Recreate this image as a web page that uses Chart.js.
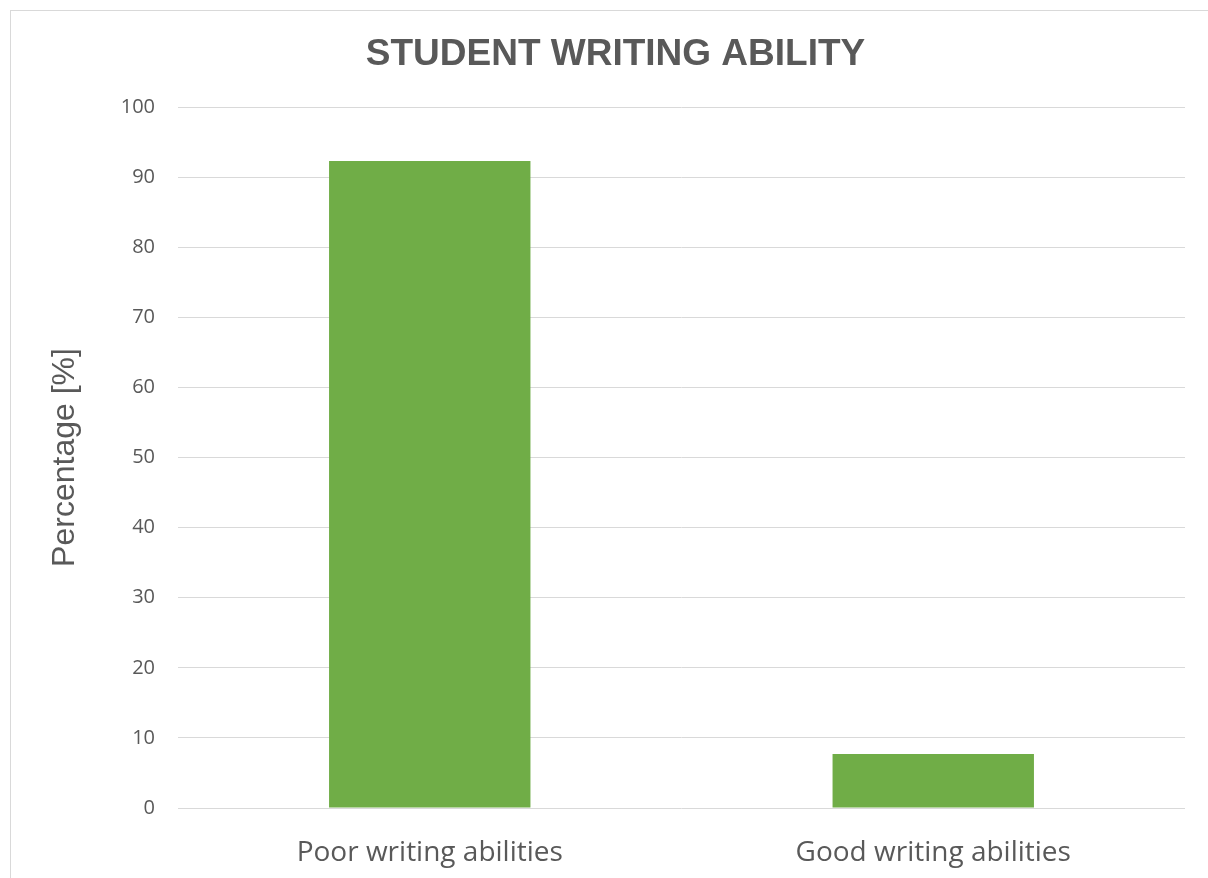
<!DOCTYPE html>
<html>
<head>
<meta charset="utf-8">
<script src="https://cdn.jsdelivr.net/npm/chart.js@4"></script>
<style>
  html, body { margin: 0; padding: 0; background: #fff; overflow: hidden; }
  #wrap { position: relative; width: 1208px; height: 878px; overflow: hidden; }
  #frame { position: absolute; left: 10px; top: 10px; width: 1300px; height: 1000px; border: 1px solid #d9d9d9; }
  #writingCanvas { position: absolute; left: 0; top: 0; }
</style>
</head>
<body>
<div id="wrap">
  <div id="frame"></div>
  <canvas id="writingCanvas" width="1208" height="878"></canvas>
</div>
<script>
// values
const categories = ["Poor writing abilities", "Good writing abilities"];
const percentages = [92.3, 7.7];
const yTicks = { min: 0, max: 100, step: 10 };

const textGray = "#595959";

var ctx = document.getElementById("writingCanvas");
var chart = new Chart(ctx, {
	type: "bar",
	data: {
		labels: categories,
		datasets: [{
			label: "Percentage",
			data: percentages,
			backgroundColor: "#70AD47",
			borderWidth: 0,
			barPercentage: 0.4,
			categoryPercentage: 1.0
		}]
	},
	options: {
		responsive: false,
		animation: false,
		layout: { padding: { top: 10, right: 23, bottom: 0, left: 46 } },
		plugins: {
			legend: { display: false },
			tooltip: { enabled: false },
			title: {
				display: true,
				text: "STUDENT WRITING ABILITY",
				color: textGray,
				font: { family: "'Liberation Sans', Arial, sans-serif", size: 37, weight: "bold", lineHeight: 1.2 },
				padding: { top: 23, bottom: 29.6 }
			}
		},
		scales: {
			x: {
				grid: { display: false },
				border: { display: false },
				ticks: {
					color: textGray,
					padding: 20,
					font: { family: "'Open Sans', sans-serif", size: 28 }
				},
				afterFit: function (scale) { scale.height = 70; }
			},
			y: {
				min: yTicks.min,
				max: yTicks.max,
				grid: { color: "#d9d9d9", lineWidth: 1, drawTicks: false },
				border: { display: false },
				ticks: {
					stepSize: yTicks.step,
					color: textGray,
					padding: 23,
					font: { family: "'Open Sans', sans-serif", size: 20 }
				},
				title: {
					display: true,
					text: "Percentage [%]",
					color: textGray,
					padding: 0,
					font: { family: "'Liberation Sans', Arial, sans-serif", size: 32 }
				},
				afterFit: function (scale) { scale.width = 132; }
			}
		}
	}
});
</script>
</body>
</html>
